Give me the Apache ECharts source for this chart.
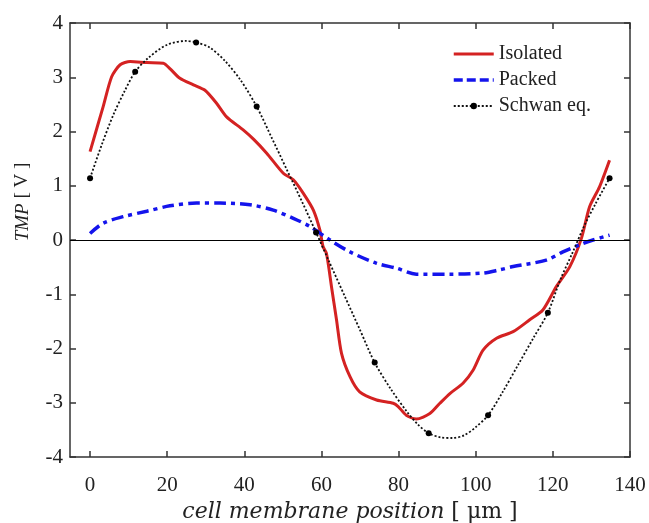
<!DOCTYPE html>
<html>
<head>
<meta charset="utf-8">
<script src="https://cdn.jsdelivr.net/npm/echarts@6/dist/echarts.min.js"></script>
<style>html,body{margin:0;padding:0;background:#fff}#c{width:649px;height:523px}</style>
</head>
<body>
<div id="c"></div>
<script>
// ---- data ----
const xTicks = [0, 20, 40, 60, 80, 100, 120, 140];
const yTicks = [-4, -3, -2, -1, 0, 1, 2, 3, 4];

const isoX = [0, 3.4, 5.6, 7.8, 10.4, 14.7, 19, 20.7, 23.3, 26.8, 29.8, 32.8, 35.4, 39.7, 42.5, 45.8, 50.1, 52.7, 55.3, 57.9, 59.6, 60.4, 61.3, 62.6, 63.9, 65.2, 67.4, 69.9, 74.3, 78.6, 79.9, 82, 84.6, 88.1, 90.7, 93.3, 96.7, 99.3, 101.9, 105.4, 109.7, 114, 117.4, 120.9, 124.4, 127.4, 129.5, 132.1, 134.7];
const isoY = [1.63, 2.46, 3.01, 3.23, 3.29, 3.27, 3.26, 3.16, 2.98, 2.86, 2.76, 2.52, 2.27, 2.03, 1.85, 1.60, 1.23, 1.11, 0.86, 0.55, 0.18, -0.12, -0.25, -0.86, -1.47, -2.09, -2.52, -2.80, -2.95, -3.01, -3.07, -3.23, -3.30, -3.20, -3.01, -2.83, -2.64, -2.40, -2.03, -1.81, -1.69, -1.47, -1.29, -0.86, -0.49, 0.03, 0.61, 0.98, 1.47];

const packX = [0, 3.4, 8.6, 14.7, 20.7, 27.6, 33.7, 41.5, 47.5, 52.7, 57, 62.2, 67.4, 74.3, 79.5, 84.6, 93.3, 101.9, 106.2, 109.7, 118.3, 122.6, 126.9, 130.4, 134.7];
const packY = [0.12, 0.31, 0.43, 0.53, 0.63, 0.68, 0.68, 0.65, 0.55, 0.40, 0.25, 0, -0.22, -0.43, -0.52, -0.63, -0.63, -0.61, -0.55, -0.49, -0.37, -0.22, -0.09, 0, 0.09];

const schX = [0, 3, 6, 9, 11.7, 15, 20, 25, 27.5, 31, 35, 39, 43.2, 47, 51, 55, 58.6, 62, 66, 70, 73.8, 78, 82, 85, 87.8, 91, 94, 97, 100, 103.2, 107, 111, 115, 118.7, 122, 125, 128, 131, 134.7];
const schY = [1.14, 1.75, 2.3, 2.75, 3.10, 3.35, 3.6, 3.67, 3.64, 3.55, 3.3, 2.95, 2.46, 1.9, 1.3, 0.7, 0.14, -0.4, -1.03, -1.66, -2.26, -2.75, -3.15, -3.4, -3.56, -3.64, -3.65, -3.6, -3.45, -3.23, -2.8, -2.3, -1.8, -1.34, -0.72, -0.25, 0.24, 0.66, 1.14];
const schDots = [0, 11.7, 27.5, 43.2, 58.6, 73.8, 87.8, 103.2, 118.7, 134.7];

const seriesNames = ['Isolated', 'Packed', 'Schwan eq.'];
// ---------------------------------------

const FONT = 'Liberation Serif';
const AX = '#333';
const TXT = '#222';
const zip = (xs, ys) => xs.map((x, i) => [x, ys[i]]);
const schData = schX.map((x, i) => schDots.indexOf(x) >= 0
  ? { value: [x, schY[i]] }
  : { value: [x, schY[i]], symbol: 'none' });

const baseX = {
  type: 'value', min: -5.2, max: 140,
  axisLine: { show: true, onZero: false, lineStyle: { color: AX, width: 1.5 } },
  axisTick: { show: true, inside: true, length: 6, customValues: xTicks, lineStyle: { color: AX, width: 1.5 } },
  splitLine: { show: false }
};
const baseY = {
  type: 'value', min: -4, max: 4, interval: 1,
  axisLine: { show: true, onZero: false, lineStyle: { color: AX, width: 1.5 } },
  axisTick: { show: true, inside: true, length: 6, lineStyle: { color: AX, width: 1.5 } },
  splitLine: { show: false }
};

const chart = echarts.init(document.getElementById('c'), null, { renderer: 'canvas' });
chart.setOption({
  animation: false,
  backgroundColor: '#fff',
  grid: { left: 70, right: 19, top: 23, bottom: 66, containLabel: false, outerBoundsMode: 'none' },
  legend: {
    orient: 'vertical', left: 447, top: 39,
    itemWidth: 40, itemHeight: 8, itemGap: 6,
    textStyle: { fontFamily: FONT, fontSize: 20, color: TXT },
    data: [
      { name: seriesNames[0], itemStyle: { opacity: 0 }, lineStyle: { width: 3 } },
      { name: seriesNames[1], itemStyle: { opacity: 0 }, lineStyle: { width: 3.5, type: [9, 4] } },
      { name: seriesNames[2] }
    ]
  },
  xAxis: [
    Object.assign({}, baseX, {
      position: 'bottom',
      axisLabel: { customValues: xTicks, fontFamily: FONT, fontSize: 21, color: TXT, margin: 18 },
      name: '{i|cell membrane position} [ μm ]',
      nameLocation: 'middle', nameGap: 37,
      nameTextStyle: { fontFamily: 'DejaVu Serif', fontSize: 22, color: TXT,
        rich: { i: { fontFamily: 'DejaVu Serif', fontSize: 22, fontStyle: 'italic', color: TXT } } }
    }),
    Object.assign({}, baseX, { position: 'top', axisLabel: { show: false } })
  ],
  yAxis: [
    Object.assign({}, baseY, {
      position: 'left',
      axisLabel: { fontFamily: FONT, fontSize: 21, color: TXT, margin: 7 },
      name: '{i|TMP} [ V ]',
      nameLocation: 'middle', nameGap: 38,
      nameTextStyle: { fontFamily: FONT, fontSize: 19, color: TXT, padding: [0, 0, 0, 76],
        rich: { i: { fontFamily: FONT, fontSize: 19, fontStyle: 'italic', color: TXT } } }
    }),
    Object.assign({}, baseY, { position: 'right', axisLabel: { show: false } })
  ],
  series: [
    {
      name: seriesNames[0], type: 'line', data: zip(isoX, isoY),
      smooth: 0.25, symbol: 'none', z: 3,
      lineStyle: { color: '#d42222', width: 3 }, itemStyle: { color: '#d42222' },
      markLine: {
        silent: true, symbol: ['none', 'none'], label: { show: false },
        lineStyle: { color: '#000', width: 1.2, type: 'solid' },
        data: [{ yAxis: 0 }]
      }
    },
    {
      name: seriesNames[1], type: 'line', data: zip(packX, packY),
      smooth: 0.3, symbol: 'none', z: 4,
      lineStyle: { color: '#1414ec', width: 3.5, type: [12, 5, 4, 5] }, itemStyle: { color: '#1414ec' }
    },
    {
      name: seriesNames[2], type: 'line', data: schData,
      smooth: 0.3, symbol: 'circle', symbolSize: 6, showSymbol: true, z: 5,
      lineStyle: { color: '#111', width: 1.8, type: [2, 2] }, itemStyle: { color: '#000' }
    }
  ]
});
</script>
</body>
</html>
